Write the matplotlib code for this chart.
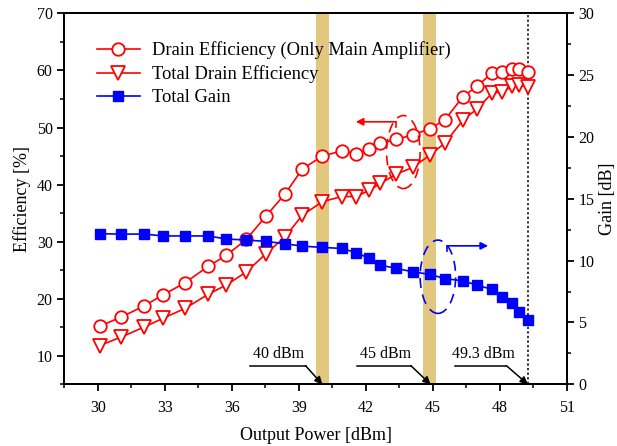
import matplotlib
matplotlib.use("Agg")
import matplotlib.pyplot as plt
from matplotlib.patches import Ellipse
from matplotlib.ticker import MultipleLocator

plt.rcParams['font.family'] = ['Liberation Serif', 'DejaVu Serif']
plt.rcParams['mathtext.fontset'] = 'stix'

# ---- data ----
pout = [30.08, 31.05, 32.05, 32.93, 33.9, 34.95, 35.75, 36.65, 37.53, 38.37,
        39.15, 40.05, 40.92, 41.58, 42.15, 42.65, 43.35, 44.1, 44.88, 45.55,
        46.35, 47.0, 47.67, 48.1, 48.55, 48.87, 49.28]
de_main = [15.2, 16.8, 18.7, 20.7, 22.8, 25.7, 27.6, 30.4, 34.5, 38.3,
           42.7, 45.0, 45.9, 45.4, 46.3, 47.2, 47.9, 48.7, 49.8, 51.4,
           55.4, 57.3, 59.6, 59.7, 60.2, 60.2, 59.7]
de_total = [11.8, 13.3, 15.0, 16.6, 18.3, 20.8, 22.4, 24.7, 27.9, 30.8,
            34.6, 37.0, 37.9, 37.9, 39.0, 40.2, 41.8, 43.0, 45.2, 47.3,
            51.3, 53.3, 56.1, 56.2, 57.2, 57.4, 57.1]
gain = [12.18, 12.15, 12.15, 12.0, 12.0, 12.0, 11.75, 11.67, 11.56, 11.37,
        11.18, 11.07, 10.99, 10.64, 10.19, 9.64, 9.38, 9.1, 8.89, 8.54,
        8.38, 8.0, 7.68, 7.08, 6.55, 5.85, 5.2]

band_centers = [40.08, 44.87]
band_width = 0.58
marker_lines = [
    # (label, tip x, line start x, line end x, text x)
    ("40 dBm", 40.05, 36.83, 39.3, 38.1),
    ("45 dBm", 44.9, 41.62, 44.02, 42.87),
    ("49.3 dBm", 49.26, 45.98, 48.3, 47.25),
]
max_pout = 49.28

labels = ["Drain Efficiency (Only Main Amplifier)", "Total Drain Efficiency", "Total Gain"]

fig = plt.figure(figsize=(6.17, 4.46), dpi=100)
ax = fig.add_axes([0.1045, 0.1383, 0.814, 0.8317])
ax2 = ax.twinx()

band_color = '#E2C77E'
for c in band_centers:
    ax.axvspan(c - band_width / 2, c + band_width / 2, color=band_color, lw=0, zorder=0)
ax.axvline(max_pout, color='black', ls=(0, (1.5, 1.5)), lw=1.1, zorder=1)

l1, = ax.plot(pout, de_main, '-o', color='red', mfc='white', mec='red',
              ms=9.0, mew=1.3, lw=1.2, zorder=3)
l2, = ax.plot(pout, de_total, '-v', color='red', mfc='white', mec='red',
              ms=9.6, mew=1.3, lw=1.2, zorder=3)
l3, = ax2.plot(pout, gain, '-s', color='blue', mfc='blue', mec='blue',
               ms=7.8, mew=1.0, lw=1.2, zorder=3)

ax.set_xlim(28.5, 51)
ax.set_ylim(5, 70)
ax2.set_ylim(0, 30)

ax.xaxis.set_major_locator(MultipleLocator(3))
ax.xaxis.set_minor_locator(MultipleLocator(1.5))
ax.yaxis.set_major_locator(MultipleLocator(10))
ax.yaxis.set_minor_locator(MultipleLocator(5))
ax2.yaxis.set_major_locator(MultipleLocator(5))
ax2.yaxis.set_minor_locator(MultipleLocator(2.5))

for a in (ax, ax2):
    a.tick_params(which='major', direction='out', length=5, width=1.3, labelsize=11.5)
    a.tick_params(which='minor', direction='out', length=3, width=1.1)
    for s in a.spines.values():
        s.set_linewidth(1.4)
ax.tick_params(axis='x', which='major', pad=6)
ax.tick_params(top=False, which='both')
ax.set_yticks([10, 20, 30, 40, 50, 60, 70])

ax.set_xlabel("Output Power [dBm]", fontsize=13, labelpad=8)
ax.set_ylabel("Efficiency [%]", fontsize=13, labelpad=4)
ax2.set_ylabel("Gain [dB]", fontsize=13, labelpad=3)

# annotations for marker powers
for lab, tip, x0, x1, tx in marker_lines:
    ax.plot([x0, x1], [8.26, 8.26], color='black', lw=1.1, zorder=4, clip_on=False)
    ax.annotate("", xy=(tip, 5.0), xytext=(x1, 8.26),
                arrowprops=dict(arrowstyle='-|>', color='black', lw=1.1,
                                mutation_scale=11, shrinkA=0, shrinkB=0),
                zorder=4)
    ax.text(tx, 8.9, lab, ha='center', va='bottom', fontsize=11.5)

# ellipses and direction arrows
ax.add_patch(Ellipse((43.68, 45.7), 1.5, 12.8, fill=False, ec='red',
                     lw=1.2, ls=(0, (6, 4)), zorder=4))
ax.plot([43.35, 43.35], [51.0, 50.1], color='red', lw=1.2, zorder=4)
ax.annotate("", xy=(41.55, 51.0), xytext=(43.35, 51.0),
            arrowprops=dict(arrowstyle='-|>', color='red', lw=1.2,
                            mutation_scale=11, shrinkA=0, shrinkB=0), zorder=4)

ax2.add_patch(Ellipse((45.23, 8.7), 1.59, 5.93, fill=False, ec='blue',
                      lw=1.2, ls=(0, (6, 4)), zorder=4))
ax2.plot([45.65, 45.65], [11.2, 10.8], color='blue', lw=1.2, zorder=4)
ax2.annotate("", xy=(47.48, 11.2), xytext=(45.65, 11.2),
             arrowprops=dict(arrowstyle='-|>', color='blue', lw=1.2,
                             mutation_scale=11, shrinkA=0, shrinkB=0), zorder=4)

leg = ax2.legend([l1, l2, l3], labels, loc='upper left',
                 bbox_to_anchor=(0.065, 0.925), frameon=False, fontsize=13.3,
                 handlelength=2.3, handletextpad=0.65, labelspacing=0.33,
                 borderpad=0, borderaxespad=0)

fig.savefig("out.png", dpi=100)
